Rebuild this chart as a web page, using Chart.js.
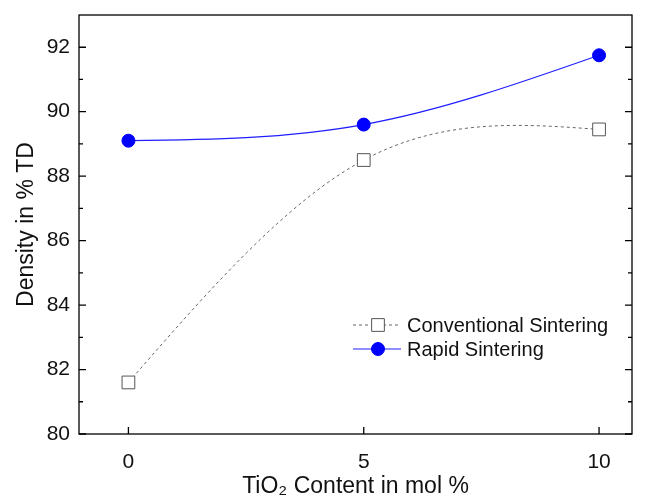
<!DOCTYPE html>
<html>
<head>
<meta charset="utf-8">
<script src="https://cdn.jsdelivr.net/npm/chart.js@4/dist/chart.umd.min.js"></script>
<style>
  html, body { margin: 0; padding: 0; background: #fff; }
  #wrap { width: 646px; height: 499px; }
</style>
</head>
<body>
<div id="wrap"><canvas id="chart"></canvas></div>
<script>
// data
const tioContent = [0, 5, 10];
const conventional = [81.6, 88.5, 89.45];
const rapid = [89.1, 89.6, 91.75];

const xTicks = [0, 5, 10];
const yTicks = [80, 82, 84, 86, 88, 90, 92];
const yMinor = [81, 83, 85, 87, 89, 91];

const FONT = '"Liberation Sans", Arial, sans-serif';

// smooth line through the points like a natural cubic spline
const naturalSpline = {
    id: 'naturalSpline',
    beforeDatasetDraw(chart, args) {
        const meta = args.meta;
        const line = meta.dataset;
        if (!line) return;
        line.updateControlPoints(chart.chartArea, meta.iAxis);
        const pts = meta.data;
        const n = pts.length;
        if (n < 3) return;
        const xs = pts.map(p => p.x), ys = pts.map(p => p.y);
        const h = [];
        for (let i = 0; i < n - 1; i++) h.push(xs[i + 1] - xs[i]);
        // tridiagonal system for second derivatives (M0 = Mn-1 = 0)
        const m = n - 2;
        const a = [], b = [], c = [], d = [];
        for (let i = 1; i <= m; i++) {
            a.push(h[i - 1]);
            b.push(2 * (h[i - 1] + h[i]));
            c.push(h[i]);
            d.push(6 * ((ys[i + 1] - ys[i]) / h[i] - (ys[i] - ys[i - 1]) / h[i - 1]));
        }
        for (let i = 1; i < m; i++) {
            const w = a[i] / b[i - 1];
            b[i] -= w * c[i - 1];
            d[i] -= w * d[i - 1];
        }
        const M = new Array(n).fill(0);
        for (let i = m - 1; i >= 0; i--) {
            M[i + 1] = (d[i] - (i < m - 1 ? c[i] * M[i + 2] : 0)) / b[i];
        }
        for (let i = 0; i < n - 1; i++) {
            const hi = h[i];
            const s = (ys[i + 1] - ys[i]) / hi;
            const d0 = s - hi * (2 * M[i] + M[i + 1]) / 6;
            const d1 = s + hi * (M[i] + 2 * M[i + 1]) / 6;
            pts[i].cp2x = xs[i] + hi / 3;
            pts[i].cp2y = ys[i] + d0 * hi / 3;
            pts[i + 1].cp1x = xs[i + 1] - hi / 3;
            pts[i + 1].cp1y = ys[i + 1] - d1 * hi / 3;
        }
        line._path = undefined;
    }
};

// box round the plot with inward ticks
const frame = {
    id: 'frame',
    beforeDatasetsDraw(chart) {
        const { ctx, chartArea: ca, scales } = chart;
        const x = scales.x, y = scales.y;
        ctx.save();
        ctx.strokeStyle = '#000';
        ctx.lineWidth = 1.3;
        ctx.strokeRect(ca.left, ca.top, ca.right - ca.left, ca.bottom - ca.top);
        ctx.beginPath();
        xTicks.forEach(v => {
            const px = x.getPixelForValue(v);
            ctx.moveTo(px, ca.bottom);
            ctx.lineTo(px, ca.bottom - 7);
        });
        yTicks.forEach(v => {
            const py = y.getPixelForValue(v);
            ctx.moveTo(ca.left, py); ctx.lineTo(ca.left + 7, py);
            ctx.moveTo(ca.right, py); ctx.lineTo(ca.right - 7, py);
        });
        yMinor.forEach(v => {
            const py = y.getPixelForValue(v);
            ctx.moveTo(ca.left, py); ctx.lineTo(ca.left + 4, py);
            ctx.moveTo(ca.right, py); ctx.lineTo(ca.right - 4, py);
        });
        ctx.stroke();
        ctx.restore();
    }
};

// legend inside the plot, lower right
const insideLegend = {
    id: 'insideLegend',
    afterDraw(chart) {
        const ctx = chart.ctx;
        const rows = [
            { ds: chart.data.datasets[0], y: 325 },
            { ds: chart.data.datasets[1], y: 349 }
        ];
        ctx.save();
        rows.forEach(r => {
            const ds = r.ds;
            ctx.strokeStyle = ds.borderColor;
            ctx.lineWidth = ds.borderWidth;
            ctx.setLineDash(ds.borderDash || []);
            ctx.beginPath();
            ctx.moveTo(353, r.y);
            ctx.lineTo(401, r.y);
            ctx.stroke();
            ctx.setLineDash([]);
            ctx.fillStyle = ds.pointBackgroundColor;
            ctx.strokeStyle = ds.pointBorderColor;
            ctx.lineWidth = ds.pointBorderWidth;
            ctx.beginPath();
            if (ds.pointStyle === 'rect') {
                const s = ds.pointRadius * Math.SQRT1_2;
                ctx.rect(378 - s, r.y - s, 2 * s, 2 * s);
            } else {
                ctx.arc(378, r.y, ds.pointRadius, 0, Math.PI * 2);
            }
            ctx.fill();
            ctx.stroke();
            ctx.fillStyle = '#111';
            ctx.font = '20px ' + FONT;
            ctx.textBaseline = 'middle';
            ctx.fillText(ds.label, 407, r.y + 1);
        });
        ctx.restore();
    }
};

const ctx = document.getElementById('chart').getContext('2d');

new Chart(ctx, {
    type: 'scatter',
    data: {
        datasets: [{
            label: 'Conventional Sintering',
            data: tioContent.map((x, i) => ({ x: x, y: conventional[i] })),
            showLine: true,
            borderColor: '#666',
            borderWidth: 1,
            borderDash: [3, 3],
            tension: 0.4,
            pointStyle: 'rect',
            pointRadius: 9,
            pointBackgroundColor: '#fff',
            pointBorderColor: '#555',
            pointBorderWidth: 1
        }, {
            label: 'Rapid Sintering',
            data: tioContent.map((x, i) => ({ x: x, y: rapid[i] })),
            showLine: true,
            borderColor: '#1f1fff',
            borderWidth: 1.2,
            tension: 0.4,
            pointStyle: 'circle',
            pointRadius: 6.5,
            pointBackgroundColor: '#0000ff',
            pointBorderColor: '#0000ff',
            pointBorderWidth: 1
        }]
    },
    options: {
        responsive: true,
        maintainAspectRatio: false,
        animation: false,
        layout: { padding: { top: 15, right: 14, left: 0, bottom: 0 } },
        plugins: {
            legend: { display: false },
            tooltip: { enabled: false }
        },
        scales: {
            x: {
                type: 'linear',
                min: -1.05,
                max: 10.7,
                afterBuildTicks: s => { s.ticks = xTicks.map(v => ({ value: v })); },
                afterFit: s => { s.height = 65; s.paddingLeft = 0; s.paddingRight = 0; },
                grid: { display: false, drawTicks: false },
                border: { display: false },
                ticks: { color: '#111', font: { size: 21, family: FONT }, padding: 16, maxRotation: 0 },
                title: {
                    display: true,
                    text: 'TiO₂ Content in mol %',
                    color: '#111',
                    font: { size: 23, family: FONT },
                    padding: { top: 0, bottom: -1 }
                }
            },
            y: {
                min: 80,
                max: 93,
                afterBuildTicks: s => { s.ticks = yTicks.map(v => ({ value: v })); },
                afterFit: s => { s.width = 79; s.paddingTop = 0; s.paddingBottom = 0; },
                grid: { display: false, drawTicks: false },
                border: { display: false },
                ticks: { color: '#111', font: { size: 21, family: FONT }, padding: 9 },
                title: {
                    display: true,
                    text: 'Density in % TD',
                    color: '#111',
                    font: { size: 23, family: FONT },
                    padding: { top: 13, bottom: 0 }
                }
            }
        }
    },
    plugins: [naturalSpline, frame, insideLegend]
});
</script>
</body>
</html>
